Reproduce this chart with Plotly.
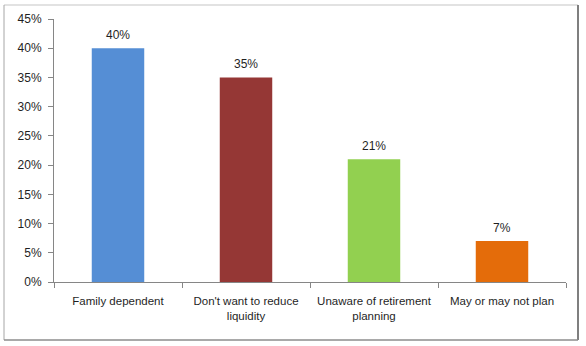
import plotly.graph_objects as go

categories = ["Family dependent", "Don't want to reduce<br>liquidity", "Unaware of retirement<br>planning", "May or may not plan"]
values = [0.40, 0.35, 0.21, 0.07]
colors = ["#558ED5", "#953735", "#92D050", "#E46C0A"]
tick_vals = [0, 0.05, 0.10, 0.15, 0.20, 0.25, 0.30, 0.35, 0.40, 0.45]
value_labels = [f"{round(v*100)}%" for v in values]

font_family = "Liberation Sans, Arial, sans-serif"
txt_color = "#1F1F1F"

fig = go.Figure(go.Bar(
    x=categories, y=values,
    marker=dict(color=colors, line=dict(width=0)),
    width=0.41,
))

for c, v, lab in zip(categories, values, value_labels):
    fig.add_annotation(x=c, y=v, text=lab, showarrow=False, yanchor="bottom",
                       yshift=4, font=dict(size=12, color=txt_color, family=font_family))

W = 512
H = 263
def px(x):
    return (x - 54) / W
def py(y):
    return (282 - y) / H

fig.update_layout(
    width=586, height=346,
    margin=dict(l=54, r=20, t=19, b=64, autoexpand=False),
    paper_bgcolor="white", plot_bgcolor="white",
    showlegend=False,
    font=dict(family=font_family, size=12, color=txt_color),
    xaxis=dict(showline=True, linecolor="#868686", linewidth=1,
               ticks="outside", tickson="boundaries", ticklen=5, tickcolor="#868686",
               showgrid=False, tickfont=dict(size=11.5), ticklabelstandoff=8,
               tickangle=0, automargin=False),
    yaxis=dict(range=[0, 0.45], tickvals=tick_vals, tickformat=".0%",
               showline=True, linecolor="#868686", linewidth=1,
               ticks="outside", ticklen=5, tickcolor="#868686",
               showgrid=False, zeroline=False, tickfont=dict(size=12), ticklabelstandoff=4,
               automargin=False),
    shapes=[
        dict(type="line", xref="paper", yref="paper", x0=px(4), x1=px(578),
             y0=py(5), y1=py(5), line=dict(color="#D9D9D9", width=1.5)),
        dict(type="line", xref="paper", yref="paper", x0=px(4), x1=px(4),
             y0=py(5), y1=py(340), line=dict(color="#A6A6A6", width=1)),
        dict(type="line", xref="paper", yref="paper", x0=px(578), x1=px(578),
             y0=py(5), y1=py(340), line=dict(color="#7F7F7F", width=2)),
        dict(type="line", xref="paper", yref="paper", x0=px(4), x1=px(578),
             y0=py(340), y1=py(340), line=dict(color="#8C8C8C", width=1.5)),
    ],
)

fig.write_html("out.html")
